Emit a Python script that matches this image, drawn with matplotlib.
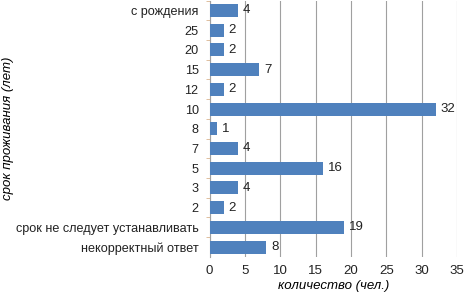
import matplotlib
matplotlib.use("Agg")
import matplotlib.pyplot as plt

plt.rcParams['font.family'] = ['Liberation Sans', 'DejaVu Sans']

categories = ["с рождения", "25", "20", "15", "12", "10", "8", "7", "5", "3", "2",
              "срок не следует устанавливать", "некорректный ответ"]
values = [4, 2, 2, 7, 2, 32, 1, 4, 16, 4, 2, 19, 8]
xticks = [0, 5, 10, 15, 20, 25, 30, 35]

fig = plt.figure(figsize=(4.67, 2.96), dpi=100)
ax = fig.add_axes([0.449, 0.132, 0.530, 0.866])

pos = list(range(len(categories)))
ax.barh(pos, values, height=0.66, color='#4F81BD', zorder=3)
for p, v in zip(pos, values):
    ax.text(v + 0.7, p, str(v), va='center', ha='left', fontsize=9.5, color='#222222')

ax.set_xlim(0, 35)
ax.set_ylim(len(categories) - 0.5, -0.5)
ax.set_xticks(xticks)
ax.set_yticks(pos)
ax.set_yticklabels(categories)
ax.xaxis.grid(True, color='#a0a0a0', linewidth=0.8, zorder=0)
ax.tick_params(axis='x', length=0, labelsize=9.5, pad=6, colors='#222222')
ax.tick_params(axis='y', which='major', length=0, labelsize=9.1, pad=8, labelcolor='#222222')
# small ticks between categories
ax.set_yticks([p + 0.5 for p in pos[:-1]] + [-0.5], minor=True)
ax.tick_params(axis='y', which='minor', length=3, color='#d9b48f')

for s in ['top', 'right', 'bottom']:
    ax.spines[s].set_visible(False)
ax.spines['left'].set_color('#a0a0a0')

ax.set_xlabel("количество (чел.)", style='italic', fontsize=9.5, labelpad=2)
ax.set_ylabel("срок проживания (лет)", style='italic', fontsize=9.5)
ax.yaxis.set_label_coords(-0.79, 0.5)

fig.savefig("out.png", dpi=100)
